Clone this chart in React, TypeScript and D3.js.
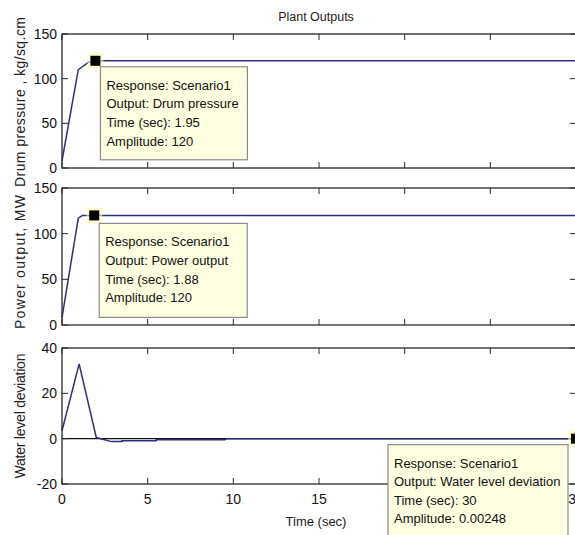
import React from "react";
import * as d3 from "d3";

const timeDrum = [0, 0.95, 1.3, 1.6, 1.95, 30];
const drumPressure = [8, 110, 115, 119, 120, 120];
const timePower = [0, 0.95, 1.2, 1.88, 30];
const powerOutput = [8, 117, 120, 120, 120];
const timeWater = [0, 1.0, 2.0, 2.9, 3.5, 3.5, 5.5, 5.5, 9.5, 9.6, 30];
const waterLevel = [3.5, 33, 0.5, -1.3, -1.3, -0.9, -0.9, -0.5, -0.5, 0, 0.00248];

const xTicks = [0, 5, 10, 15, 20, 25, 30];
const yTicksTop = [0, 50, 100, 150];
const yTicksBottom = [-20, 0, 20, 40];

const tip1 = ["Response: Scenario1", "Output: Drum pressure", "Time (sec): 1.95", "Amplitude: 120"];
const tip2 = ["Response: Scenario1", "Output: Power output", "Time (sec): 1.88", "Amplitude: 120"];
const tip3 = ["Response: Scenario1", "Output: Water level deviation", "Time (sec): 30", "Amplitude: 0.00248"];

const FONT = "'Liberation Sans', Arial, Helvetica, sans-serif";
const LINE = "#2e2e7c";
const FRAME = "#2a2a2a";

const x = d3.scaleLinear().domain([0, 30]).range([62, 576]);

type PanelProps = {
  y: d3.ScaleLinear<number, number>;
  yTicks: number[];
  showX: boolean;
  label: string;
  labelLen: number;
  labelY: number;
  ts: number[];
  vs: number[];
};

function Panel({ y, yTicks, showX, label, labelLen, labelY, ts, vs }: PanelProps) {
  const [y0, y1] = y.range();
  const top = Math.min(y0, y1);
  const bottom = Math.max(y0, y1);
  const left = x.range()[0];
  const right = x.range()[1];
  const line = d3
    .line<number>()
    .x((_, i) => x(ts[i]))
    .y((v) => y(v));
  const tl = 6;
  return (
    <g>
      <rect x={left} y={top} width={right - left} height={bottom - top} fill="white" />
      {y.domain()[0] < 0 && (
        <line x1={x(0)} x2={x(30)} y1={y(0)} y2={y(0)} stroke="#111" strokeWidth={1.3} />
      )}
      <path d={line(vs) || ""} fill="none" stroke={LINE} strokeWidth={1.5} />
      {xTicks.map((t) => (
        <g key={"xt" + t}>
          <line x1={x(t)} x2={x(t)} y1={top} y2={top + tl} stroke={FRAME} />
          <line x1={x(t)} x2={x(t)} y1={bottom} y2={bottom - tl} stroke={FRAME} />
          {showX && (
            <text x={x(t)} y={bottom + 20} fontSize={14} textAnchor="middle" fontFamily={FONT} fill="#111">
              {t}
            </text>
          )}
        </g>
      ))}
      {yTicks.map((t) => (
        <g key={"yt" + t}>
          <line x1={left} x2={left + tl} y1={y(t)} y2={y(t)} stroke={FRAME} />
          <line x1={right} x2={right - tl} y1={y(t)} y2={y(t)} stroke={FRAME} />
          <text x={left - 5} y={y(t) + 5} fontSize={14} textAnchor="end" fontFamily={FONT} fill="#111">
            {t}
          </text>
        </g>
      ))}
      <rect x={left} y={top} width={right - left} height={bottom - top} fill="none" stroke={FRAME} strokeWidth={1.3} />
      <text
        transform={`translate(25,${labelY}) rotate(-90)`}
        textAnchor="middle"
        fontSize={14}
        fontFamily={FONT}
        fill="#222"
        textLength={labelLen}
        lengthAdjust="spacing"
      >
        {label}
      </text>
    </g>
  );
}

type TipProps = {
  mx: number;
  my: number;
  bx: number;
  by: number;
  w: number;
  h: number;
  lines: string[];
};

function Tip({ mx, my, bx, by, w, h, lines }: TipProps) {
  return (
    <g>
      <rect x={mx - 8} y={my - 8} width={16} height={16} fill="#fffbb0" opacity={0.6} />
      <rect x={bx} y={by} width={w} height={h} fill="#ffffe1" stroke="#8a8a8a" strokeWidth={1.2} />
      {lines.map((s, i) => (
        <text key={i} x={bx + 6} y={by + 23 + i * 18.6} fontSize={13} fontFamily={FONT} fill="#111">
          {s}
        </text>
      ))}
      <rect x={mx - 5} y={my - 5} width={10} height={10} fill="#000" />
    </g>
  );
}

export default function App() {
  const yDrum = d3.scaleLinear().domain([0, 150]).range([168, 34]);
  const yPower = d3.scaleLinear().domain([0, 150]).range([325, 188]);
  const yWater = d3.scaleLinear().domain([-20, 40]).range([484, 348]);

  const m1x = x(1.95), m1y = yDrum(120);
  const m2x = x(1.88), m2y = yPower(120);
  const m3x = x(30), m3y = yWater(0.00248);

  return (
    <svg
      width={575}
      height={535}
      style={{ position: "absolute", left: 0, top: 0, background: "white" }}
    >
      <rect width={575} height={535} fill="white" />
      <text x={316} y={21} textAnchor="middle" fontSize={12.5} fontFamily={FONT} fill="#222">
        Plant Outputs
      </text>
      <Panel y={yDrum} yTicks={yTicksTop} showX={false} label="Drum pressure , kg/sq.cm" labelLen={170} labelY={102} ts={timeDrum} vs={drumPressure} />
      <Panel y={yPower} yTicks={yTicksTop} showX={false} label="Power output, MW" labelLen={134} labelY={262} ts={timePower} vs={powerOutput} />
      <Panel y={yWater} yTicks={yTicksBottom} showX={true} label="Water level deviation" labelLen={125} labelY={416} ts={timeWater} vs={waterLevel} />
      <text x={316} y={526} textAnchor="middle" fontSize={13} fontFamily={FONT} fill="#222">
        Time (sec)
      </text>
      <Tip mx={m1x} my={m1y} bx={m1x + 5} by={m1y + 6} w={147} h={93} lines={tip1} />
      <Tip mx={m2x} my={m2y} bx={m2x + 5} by={m2y + 8} w={148} h={94} lines={tip2} />
      <Tip mx={m3x} my={m3y} bx={m3x - 188} by={m3y + 6} w={180} h={100} lines={tip3} />
    </svg>
  );
}
